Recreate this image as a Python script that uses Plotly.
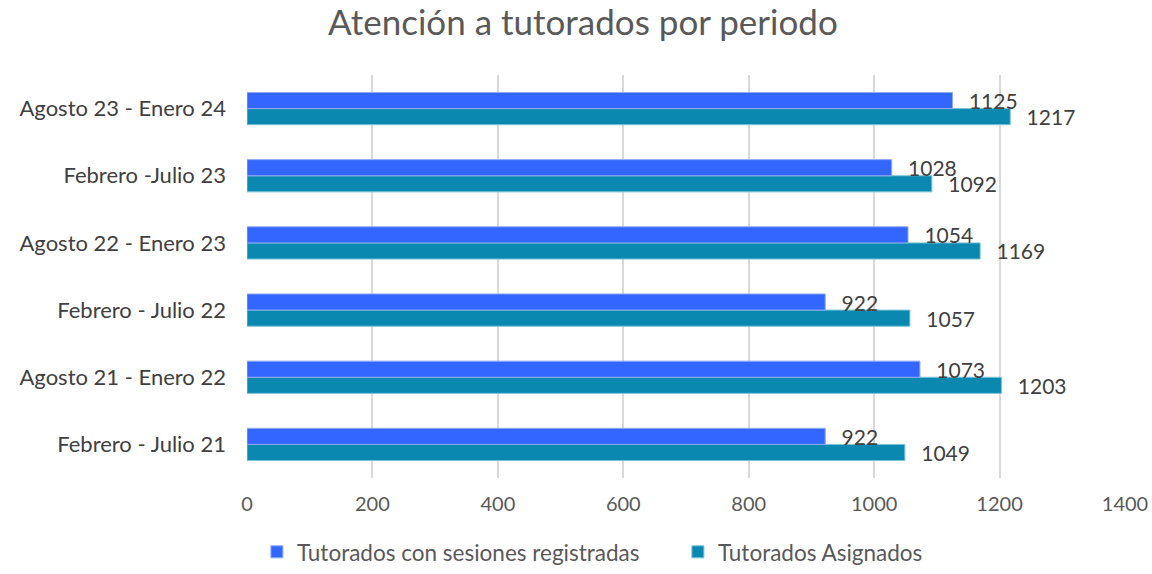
import plotly.graph_objects as go

periodos = ["Febrero - Julio 21", "Agosto 21 - Enero 22", "Febrero - Julio 22",
            "Agosto 22 - Enero 23", "Febrero -Julio 23", "Agosto 23 - Enero 24"]
con_sesiones = [922, 1073, 922, 1054, 1028, 1125]
asignados = [1049, 1203, 1057, 1169, 1092, 1217]
x_ticks = [0, 200, 400, 600, 800, 1000, 1200, 1400]

fuente = "Gill Sans, Gill Sans MT, Lato, sans-serif"
pad = "\u00a0\u00a0\u2009"

fig = go.Figure()
# teal goes first so it sits below the blue bar in each group
fig.add_trace(go.Bar(
    y=periodos, x=asignados, orientation="h", name="Tutorados Asignados",
    marker=dict(color="#0A88B0", line=dict(color="#7cc3d8", width=1)),
    text=[pad + str(v) for v in asignados], textposition="outside",
    textfont=dict(size=21, color="#404040"), legendrank=2,
))
fig.add_trace(go.Bar(
    y=periodos, x=con_sesiones, orientation="h", name="Tutorados con sesiones registradas",
    marker=dict(color="#3366FF", line=dict(color="#8fa9f5", width=1)),
    text=[pad + str(v) for v in con_sesiones], textposition="outside",
    textfont=dict(size=21, color="#404040"), legendrank=1,
))
fig.update_traces(cliponaxis=False, constraintext="none")

fig.update_layout(
    title=dict(text="Atención a tutorados por periodo", x=0.506, xanchor="center",
               y=0.96, yanchor="middle",
               font=dict(size=35, color="#595959", family=fuente)),
    barmode="group", bargap=0.52, bargroupgap=0,
    plot_bgcolor="white", paper_bgcolor="white",
    width=1152, height=574,
    margin=dict(l=247, r=27, t=75, b=96),
    font=dict(family=fuente, color="#595959", size=20),
    xaxis=dict(range=[0, 1400], tickvals=x_ticks, showgrid=True, gridcolor="#d9d9d9",
               gridwidth=1.5, zeroline=False, showline=False, ticks="",
               automargin=False, ticklabelstandoff=12, ticklabeloverflow="allow",
               tickfont=dict(size=20, color="#595959")),
    yaxis=dict(showgrid=False, showline=False, ticks="", automargin=False,
               ticklabelstandoff=20, tickfont=dict(size=22, color="#404040")),
    legend=dict(orientation="h", xref="container", yref="container",
                x=0.223, xanchor="left", y=0.038, yanchor="middle",
                entrywidth=376, font=dict(size=22.5, color="#595959"),
                traceorder="normal"),
)

# drop the default 8px body margin so the figure fills the window exactly
fig.write_html("out.html", config={"displayModeBar": False},
               post_script="document.body.style.margin='0';document.body.style.overflow='hidden';")
